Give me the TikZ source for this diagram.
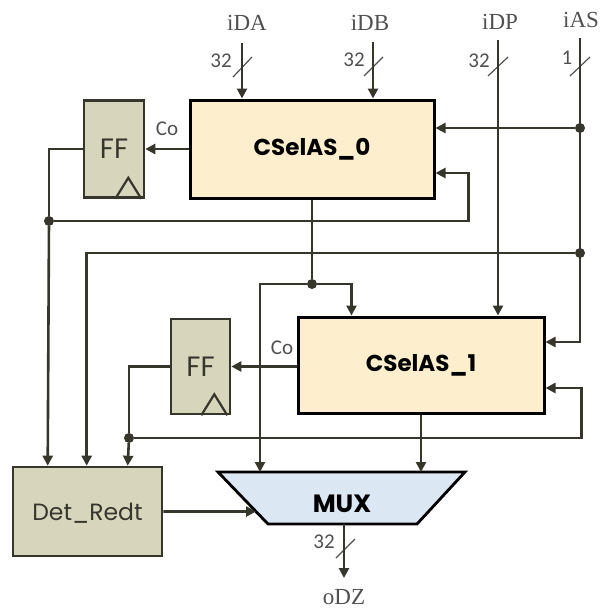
\documentclass[tikz,border=0pt]{standalone}
\usepackage{fontspec}
\usetikzlibrary{arrows.meta,calc}
\newfontfamily\lblfont{Liberation Serif}
\newfontfamily\numfont{Carlito}
\newfontfamily\blkfont{Poppins}
\definecolor{wirec}{HTML}{37362C}
\definecolor{fffill}{HTML}{D7D6BD}
\definecolor{cfill}{HTML}{FDEFCD}
\definecolor{mfill}{HTML}{DCE7F4}
\definecolor{lblc}{HTML}{505050}
\begin{document}
\begin{tikzpicture}[x=1pt,y=-1pt,
  wire/.style={draw=wirec, line width=2.6pt},
  arr/.style={wire, -{Triangle[length=10pt,width=10pt]}},
  slash/.style={draw=lblc, line width=1.2pt},
  dot/.style={circle, fill=wirec, inner sep=0pt, minimum size=10pt},
  cselbox/.style={draw=black, line width=3pt, fill=cfill, inner sep=0pt,
    font=\blkfont\bfseries\fontsize{23}{23}\selectfont},
  ffbox/.style={draw=wirec, line width=2.6pt, fill=fffill, inner sep=0pt,
    minimum width=60pt, minimum height=97pt, text=wirec,
    font=\blkfont\fontsize{28}{28}\selectfont},
  detbox/.style={draw=wirec, line width=2.6pt, fill=fffill, inner sep=0pt,
    text=wirec, font=\blkfont\fontsize{23.5}{23.5}\selectfont},
  muxs/.style={draw=black, line width=2.8pt, fill=mfill, line join=miter},
  muxtxt/.style={font=\blkfont\bfseries\fontsize{25}{25}\selectfont},
  sig/.style={text=lblc, font=\lblfont\fontsize{23}{23}\selectfont, inner sep=0pt},
  num/.style={text=lblc, font=\numfont\fontsize{21}{21}\selectfont, inner sep=0pt},
]
\useasboundingbox (0,0) rectangle (609,610);

% blocks
\node[cselbox, minimum width=244pt, minimum height=98pt] (c0) at (312,149) {CSelAS\_0};
\node[cselbox, minimum width=246pt, minimum height=96pt] (c1) at (421,365) {CSelAS\_1};
\node[ffbox] (ff0) at (114,149) {FF};
\node[ffbox, minimum width=59pt, minimum height=95pt] (ff1) at (200.5,366.5) {FF};
\node[detbox, minimum width=149pt, minimum height=89pt, text depth=0pt] (det) at (87.5,511.5) {Det\_Redt};

% clock triangles
\draw[draw=wirec, line width=2.2pt, line join=miter] ($(ff0.south east)+(-30,0)$) -- ++(13,-21) -- ++(13,21);
\draw[draw=wirec, line width=2.2pt, line join=miter] ($(ff1.south east)+(-30,0)$) -- ++(13,-21) -- ++(13,21);

% MUX
\coordinate (mTL) at (218,472);
\coordinate (mTR) at (465,472);
\coordinate (mBR) at (417,524);
\coordinate (mBL) at (268,524);
\draw[muxs] (mTL) -- (mTR) -- (mBR) -- (mBL) -- cycle;
\node[muxtxt] (mux) at (342,504) {MUX};
\coordinate (mIn1) at (260,472);
\coordinate (mIn2) at (421,472);
\coordinate (mL) at ($(mTL)!0.76!(mBL)$);
\coordinate (mOut) at (344,524);

% input labels and wire tops
\node[sig] (lA) at (247,23) {iDA};
\node[sig] (lB) at (370,23) {iDB};
\node[sig] (lP) at (500,22) {iDP};
\node[sig] (lS) at (581,20) {iAS};
\coordinate (iDAt) at (242,43);
\coordinate (iDBt) at (373,42);
\coordinate (iDPt) at (498,40);
\coordinate (iASt) at (580,38);

% bus widths
\node[num] (nA) at (221,61) {32};
\node[num] (nB) at (354,60) {32};
\node[num] (nP) at (479,61) {32};
\node[num] (nS) at (567,58) {1};
\node[num] (nO) at (324,542) {32};
\draw[slash] (233,77) -- (252,57);
\draw[slash] (364,76) -- (383,57);
\draw[slash] (488,76) -- (508,57);
\draw[slash] (570,76) -- (590,57);
\draw[slash] (336,558) -- (355,539);

% junction dots
\node[dot] (dA1) at (580,128) {};
\node[dot] (dA2) at (580,253) {};
\node[dot] (j0) at (49,221) {};
\node[dot] (j1) at (129,438) {};
\node[dot] (j2) at (312,284) {};

% port coordinates
\coordinate (c0a) at ($(c0.east)+(0,-21)$);
\coordinate (c0b) at ($(c0.east)+(0,24)$);
\coordinate (c1a) at ($(c1.east)+(0,-23)$);
\coordinate (c1b) at ($(c1.east)+(0,23)$);
\coordinate (c1t1) at ($(c1.north west)+(55,0)$);
\coordinate (dt1) at ($(det.north west)+(36,0)$);
\coordinate (dt2) at ($(det.north west)+(75,0)$);
\coordinate (dt3) at ($(det.north west)+(116,0)$);
\coordinate (co0p) at (c0.west |- ff0.east);
\coordinate (co1p) at (c1.west |- ff1.east);

% inputs
\draw[arr] (iDAt) -- (iDAt |- c0.north);
\draw[arr] (iDBt) -- (iDBt |- c0.north);
\draw[arr] (iDPt) -- (iDPt |- c1.north);
\draw[arr] (iASt) |- (c1a);
\draw[arr] (dA1) -- (c0a);
\draw[arr] (dA2) -| (dt2);

% carry outs
\draw[arr] (co0p) -- (ff0.east);
\node[num] (co0) at (167,129) {Co};
\draw[arr] (co1p) -- (ff1.east);
\node[num] (co1) at (282,348) {Co};

% FF outputs
\draw[wire] (ff0.west) -| (j0);
\draw[arr] (j0) -- (dt1);
\draw[arr] (j0) -| ($(c0b)+(33,0)$) -- (c0b);
\draw[wire] (ff1.west) -| (j1);
\draw[arr] (j1) -- (dt3);
\draw[arr] (j1) -| ($(c1b)+(36,0)$) -- (c1b);

% CSelAS_0 output
\draw[wire] (c0.south) -- (j2);
\draw[arr] (j2) -| (c1t1);
\draw[arr] (j2) -| (mIn1);

% CSelAS_1 output
\draw[arr] (c1.south) -- (mIn2);

% Det_Redt to MUX
\draw[arr] (det.east) -- (mL);

% output
\coordinate (oEnd) at (344,578);
\draw[arr] (mOut) -- (oEnd);
\node[sig] (lO) at (344,597) {oDZ};
\end{tikzpicture}
\end{document}
